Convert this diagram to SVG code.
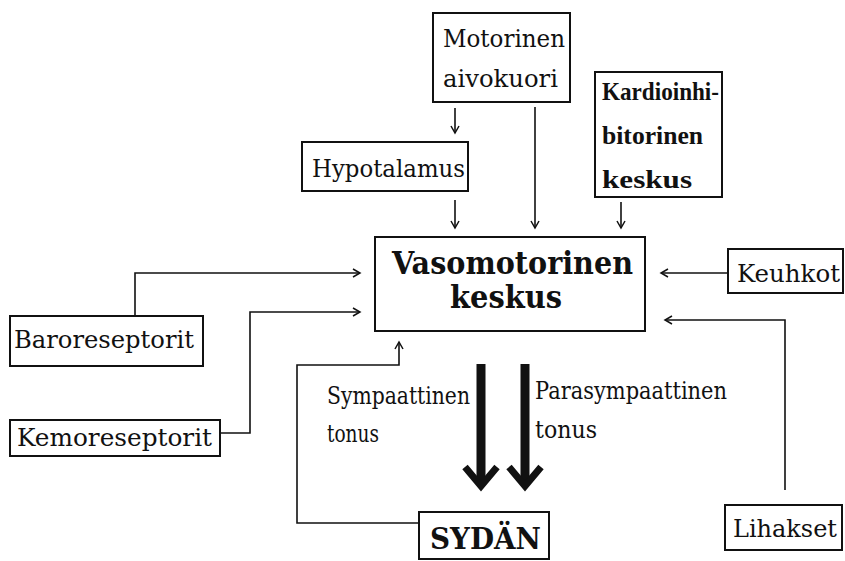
<svg xmlns="http://www.w3.org/2000/svg" width="845" height="561" viewBox="0 0 845 561">
<defs>
<marker id="ah" markerWidth="10" markerHeight="10" refX="8" refY="5" orient="auto" markerUnits="userSpaceOnUse">
<path d="M1,1 L8,5 L1,9" fill="none" stroke="#111" stroke-width="1.5"/>
</marker>
</defs>
<style>
.bx{fill:#fff;stroke:#111;stroke-width:2}
.t{font-family:"DejaVu Serif","Liberation Serif",serif;font-size:24px;fill:#111}
.b{font-family:"DejaVu Serif","Liberation Serif",serif;font-weight:bold;fill:#111}
.k{font-family:"Liberation Serif","DejaVu Serif",serif;font-weight:bold;font-size:25px;fill:#111}
.c{fill:none;stroke:#111;stroke-width:1.6;marker-end:url(#ah)}
.th{fill:none;stroke:#111;stroke-width:9}
.hd{fill:none;stroke:#111;stroke-width:7;stroke-linejoin:miter}
</style>
<rect width="845" height="561" fill="#fff"/>
<g id="connectors">
<path class="c" d="M455,108 V133"/>
<path class="c" d="M535,107 V228"/>
<path class="c" d="M455,200 V228"/>
<path class="c" d="M621,202 V228"/>
<path class="c" d="M135,316 V273 H360"/>
<path class="c" d="M220,433 H250 V312 H360"/>
<path class="c" d="M728,273 H661"/>
<path class="c" d="M785,490 V320 H665"/>
<path class="c" d="M418,523 H297 V365 H399 V342"/>
<path class="th" d="M481,364 V484"/>
<polyline class="hd" points="465,467 481,486 497,467"/>
<path class="th" d="M525,364 V484"/>
<polyline class="hd" points="509,467 525,486 541,467"/>
</g>
<g id="motorinen">
<rect class="bx" x="433" y="13" width="137" height="89"/>
<text class="t" x="443" y="47" textLength="122" lengthAdjust="spacingAndGlyphs">Motorinen</text>
<text class="t" x="443" y="87" textLength="115" lengthAdjust="spacingAndGlyphs">aivokuori</text>
</g>
<g id="hypotalamus">
<rect class="bx" x="302" y="142" width="166" height="49"/>
<text class="t" x="312" y="177" textLength="153" lengthAdjust="spacingAndGlyphs">Hypotalamus</text>
</g>
<g id="kardio">
<rect class="bx" x="595" y="72" width="127" height="125"/>
<text class="k" x="602" y="100" textLength="117" lengthAdjust="spacingAndGlyphs">Kardioinhi-</text>
<text class="k" x="602" y="144" textLength="101" lengthAdjust="spacingAndGlyphs">bitorinen</text>
<text class="k" x="602" y="188" textLength="90" lengthAdjust="spacingAndGlyphs">keskus</text>
</g>
<g id="vasomotorinen">
<rect class="bx" x="375" y="237" width="270" height="94" stroke-width="3"/>
<text class="b" x="392" y="274" font-size="31" textLength="241" lengthAdjust="spacingAndGlyphs">Vasomotorinen</text>
<text class="b" x="450" y="308" font-size="31" textLength="112" lengthAdjust="spacingAndGlyphs">keskus</text>
</g>
<g id="keuhkot">
<rect class="bx" x="728" y="249" width="115" height="44"/>
<text class="t" x="737" y="282" textLength="103" lengthAdjust="spacingAndGlyphs">Keuhkot</text>
</g>
<g id="baroreseptorit">
<rect class="bx" x="10" y="316" width="193" height="50"/>
<text class="t" x="14" y="348" textLength="180" lengthAdjust="spacingAndGlyphs">Baroreseptorit</text>
</g>
<g id="kemoreseptorit">
<rect class="bx" x="10" y="420" width="210" height="36"/>
<text class="t" x="17" y="446" textLength="195" lengthAdjust="spacingAndGlyphs">Kemoreseptorit</text>
</g>
<g id="sympaattinen">
<text class="t" x="327" y="404" font-size="20" textLength="143" lengthAdjust="spacingAndGlyphs">Sympaattinen</text>
<text class="t" x="327" y="442" font-size="20" textLength="52" lengthAdjust="spacingAndGlyphs">tonus</text>
</g>
<g id="parasympaattinen">
<text class="t" x="535" y="399" font-size="20" textLength="192" lengthAdjust="spacingAndGlyphs">Parasympaattinen</text>
<text class="t" x="535" y="438" font-size="20" textLength="62" lengthAdjust="spacingAndGlyphs">tonus</text>
</g>
<g id="lihakset">
<rect class="bx" x="725" y="505" width="117" height="45"/>
<text class="t" x="733" y="537" textLength="104" lengthAdjust="spacingAndGlyphs">Lihakset</text>
</g>
<g id="sydan">
<rect class="bx" x="419" y="512" width="130" height="47" stroke-width="2.5"/>
<text class="b" x="430" y="549" font-size="29" textLength="111" lengthAdjust="spacingAndGlyphs">SYDÄN</text>
</g>
</svg>
